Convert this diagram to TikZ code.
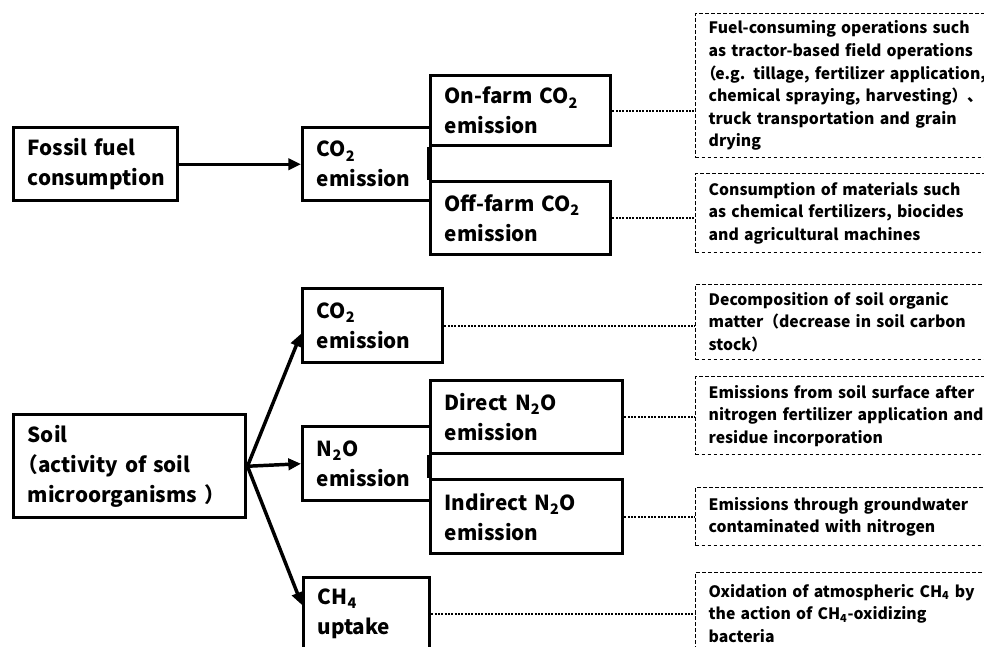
\documentclass[tikz,border=0pt]{standalone}
\usepackage{fontspec}
\setmainfont{Noto Sans CJK JP}
\usetikzlibrary{arrows.meta}
\newcommand\sbt[1]{\textsubscript{#1}}
\newcommand\lpar{\hspace*{-0.5em}（}
\begin{document}
\begin{tikzpicture}[x=0.75pt,y=-0.75pt,
  sbox/.style={draw, line width=2.6pt, inner xsep=10.5pt, inner ysep=0pt, align=left, anchor=north west,
    font=\bfseries\fontsize{15.5pt}{22.5pt}\selectfont},
  dbox/.style={draw, line width=1pt, dash pattern=on 2.8pt off 1.7pt, inner xsep=9.75pt, inner ysep=0pt,
    align=left, anchor=north west, text width=260pt, font=\bfseries\fontsize{11.8pt}{16.9pt}\selectfont},
  dotline/.style={line width=1.7pt, dash pattern=on 1.4pt off 1.1pt},
  arr/.style={line width=2.6pt, -{Triangle[length=9.5pt,width=8.5pt]}}]
\useasboundingbox (0,0) rectangle (984,646);
\clip (0,0) rectangle (984,646);

% solid boxes
\node[sbox, minimum width=123pt, minimum height=54.75pt, text width=102pt] (fossil) at (12,126) {Fossil fuel\\consumption};
\node[sbox, minimum width=96pt, minimum height=54.75pt, text width=75pt] (co2a) at (301,126) {CO\sbt{2}\\emission};
\node[sbox, minimum width=135pt, minimum height=52.5pt, text width=114pt] (onfarm) at (429,74) {On-farm CO\sbt{2}\\emission};
\node[sbox, minimum width=135pt, minimum height=54.75pt, text width=114pt] (offfarm) at (429,180) {Off-farm CO\sbt{2}\\emission};
\node[sbox, minimum width=174pt, minimum height=77.25pt, text width=153pt] (soil) at (12,413) {Soil\\\lpar activity of soil\\microorganisms ）};
\node[sbox, minimum width=105pt, minimum height=55.5pt, text width=84pt] (co2b) at (301,287) {CO\sbt{2}\\emission};
\node[sbox, minimum width=96pt, minimum height=55.5pt, text width=75pt] (n2o) at (301,425) {N\sbt{2}O\\emission};
\node[sbox, minimum width=144pt, minimum height=54.75pt, text width=123pt] (direct) at (429,379) {Direct N\sbt{2}O\\emission};
\node[sbox, minimum width=144pt, minimum height=55.5pt, text width=123pt] (indirect) at (429,478) {Indirect N\sbt{2}O\\emission};
\node[sbox, minimum width=94.5pt, minimum height=54.75pt, text width=73.5pt] (ch4) at (302,576) {CH\sbt{4}\\uptake};

% dashed description boxes
\node[dbox, minimum height=108pt] (d1) at (695,13) {Fuel-consuming operations such\\as tractor-based field operations\\\lpar\hspace{-0.08em}e.g. tillage, fertilizer application,\\chemical spraying, harvesting）、\\truck transportation and grain\\drying};
\node[dbox, minimum height=59.25pt] (d2) at (695,173) {Consumption of materials such\\as chemical fertilizers, biocides\\and agricultural machines};
\node[dbox, minimum height=56.25pt] (d3) at (695,284) {Decomposition of soil organic\\matter（decrease in soil carbon\\stock）};
\node[dbox, minimum height=58.5pt] (d4) at (695,376) {Emissions from soil surface after\\nitrogen fertilizer application and\\residue incorporation};
\node[dbox, minimum height=43.5pt] (d5) at (695,487) {Emissions through groundwater\\contaminated with nitrogen};
\node[dbox, minimum height=60.75pt] (d6) at (695,572) {Oxidation of atmospheric CH\sbt{4} by\\the action of CH\sbt{4}-oxidizing\\bacteria};

% brackets
\draw[line width=2.6pt] (onfarm.south west) -- (offfarm.north west);
\draw[line width=2.6pt] (direct.south west) -- (indirect.north west);

% arrows
\draw[arr] (fossil) -- (co2a);
\draw[arr] (soil.east) -- ([yshift=-6pt]co2b.west);
\draw[arr] (soil.east) -- (n2o.west);
\draw[arr] (soil.east) -- ([yshift=-21.75pt]ch4.north west);

% dotted connectors
\draw[dotline] (onfarm.east) -- (onfarm.east -| d1.west);
\draw[dotline] (offfarm.east) -- (offfarm.east -| d2.west);
\draw[dotline] (co2b.east) -- (co2b.east -| d3.west);
\draw[dotline] (direct.east) -- (direct.east -| d4.west);
\draw[dotline] (indirect.east) -- (indirect.east -| d5.west);
\draw[dotline] (ch4.east) -- (ch4.east -| d6.west);
\end{tikzpicture}
\end{document}
